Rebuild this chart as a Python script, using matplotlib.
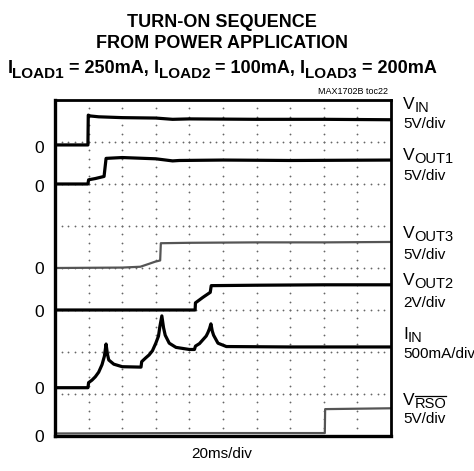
import numpy as np
import matplotlib
matplotlib.use("Agg")
import matplotlib.pyplot as plt
from matplotlib.transforms import IdentityTransform
from matplotlib.lines import Line2D

plt.rcParams["font.family"] = ["Liberation Sans", "DejaVu Sans"]

# 파형 데이터 (x: 시간 div, y: 화면 div)
vin_x = [0, 0.98, 0.99, 1.05, 1.3, 2.0, 3.0, 3.5, 4.0, 6.0, 8.0, 10]
vin_y = [6.93, 6.93, 7.64, 7.62, 7.6, 7.58, 7.57, 7.54, 7.55, 7.54, 7.54, 7.53]

vout1_x = [0, 0.98, 1.0, 1.2, 1.46, 1.52, 2.0, 3.0, 3.5, 3.7, 5.0, 7.0, 10]
vout1_y = [6.0, 6.0, 6.1, 6.13, 6.18, 6.61, 6.63, 6.6, 6.55, 6.56, 6.57, 6.56, 6.57]

vout3_x = [0, 2.0, 2.54, 2.8, 2.98, 3.13, 3.15, 4.0, 6.0, 8.0, 10]
vout3_y = [4.0, 4.01, 4.03, 4.1, 4.15, 4.18, 4.59, 4.6, 4.61, 4.61, 4.62]

vout2_x = [0, 4.17, 4.18, 4.4, 4.62, 4.65, 6.0, 8.0, 10]
vout2_y = [3.0, 3.0, 3.17, 3.3, 3.42, 3.58, 3.59, 3.6, 3.6]

iin_x = [0, 0.98, 1.0, 1.1, 1.2, 1.3, 1.4, 1.47, 1.52, 1.56, 1.6, 1.75, 2.0, 2.56,
         2.58, 2.7, 2.8, 2.9, 3.0, 3.08, 3.12, 3.18, 3.23, 3.28, 3.4, 3.6, 4.0, 4.15,
         4.18, 4.3, 4.4, 4.5, 4.55, 4.6, 4.64, 4.68, 4.72, 4.85, 5.1, 7.0, 10]
iin_y = [1.15, 1.15, 1.27, 1.33, 1.41, 1.52, 1.7, 1.9, 2.19, 1.95, 1.81, 1.71, 1.65, 1.64,
         1.77, 1.86, 1.93, 2.03, 2.21, 2.38, 2.6, 2.86, 2.58, 2.4, 2.21, 2.11, 2.06, 2.06,
         2.14, 2.2, 2.29, 2.38, 2.46, 2.56, 2.67, 2.5, 2.4, 2.21, 2.13, 2.12, 2.12]

vrso_x = [0, 4.0, 8.03, 8.04, 9.0, 10]
vrso_y = [0.06, 0.07, 0.07, 0.64, 0.65, 0.66]

zero_ticks = [6.88, 5.95, 4.0, 2.98, 1.14, 0.0]

# (기호, 첨자, 스케일, 기호 baseline px, 스케일 baseline px)
right_labels = [
    ("V", "IN", "5V/div", 109, 128),
    ("V", "OUT1", "5V/div", 160, 180),
    ("V", "OUT3", "5V/div", 238, 259),
    ("V", "OUT2", "2V/div", 285, 307),
    ("I", "IN", "500mA/div", 339, 358),
    ("V", "RSO", "5V/div", 405, 423),
]

W, H = 474, 471
fig = plt.figure(figsize=(W / 100, H / 100), dpi=100)
renderer = fig.canvas.get_renderer()


def text_width(s, **kw):
    t = fig.text(0, 0, "|" + s + "|", transform=IdentityTransform(), **kw)
    w1 = t.get_window_extent(renderer).width
    t.set_text("||")
    w0 = t.get_window_extent(renderer).width
    t.remove()
    return w1 - w0


def rich(pieces, x, ybase, ha="left"):
    # pieces: (문자열, 크기, 굵기, 아래로 이동 px)
    widths = [text_width(s, fontsize=sz, fontweight=wt) for s, sz, wt, dy in pieces]
    total = sum(widths)
    cx = x - total / 2 if ha == "center" else x
    out = []
    for (s, sz, wt, dy), w in zip(pieces, widths):
        t = fig.text(cx, H - ybase - dy, s, fontsize=sz, fontweight=wt,
                     ha="left", va="baseline", transform=IdentityTransform())
        out.append((t, cx, w))
        cx += w
    return out


ax = fig.add_axes([55 / W, 1 - 436 / H, 336 / W, 336 / H])
ax.set_xlim(0, 10)
ax.set_ylim(0, 8)

# 점선 그리드
for i in range(1, 10):
    ys = np.arange(1, 40) * 0.2
    ax.plot(np.full_like(ys, i), ys, ls="none", marker="o", ms=1.3, color="#666666", mew=0)
for j in range(1, 8):
    xs = np.arange(1, 50) * 0.2
    ax.plot(xs, np.full_like(xs, j), ls="none", marker="o", ms=1.3, color="#666666", mew=0)

thick = dict(color="black", lw=2.3, solid_joinstyle="round")
thin = dict(color="#555555", lw=1.6)
ax.plot(vin_x, vin_y, **thick)
ax.plot(vout1_x, vout1_y, **thick)
ax.plot(vout3_x, vout3_y, **thin)
ax.plot(vout2_x, vout2_y, **thick)
ax.plot(iin_x, iin_y, **thick)
ax.plot(vrso_x, vrso_y, **thin)

ax.set_xticks([])
ax.set_yticks(zero_ticks)
ax.set_yticklabels(["0"] * len(zero_ticks), fontsize=12.5)
ax.tick_params(axis="y", length=0, pad=8)
for side, s in ax.spines.items():
    s.set_linewidth(2.4 if side in ("left", "bottom") else 2.0)

# 제목
fig.text(222 / W, 1 - 27 / H, "TURN-ON SEQUENCE", ha="center", va="baseline",
         fontsize=13, fontweight="bold")
fig.text(222 / W, 1 - 48 / H, "FROM POWER APPLICATION", ha="center", va="baseline",
         fontsize=13, fontweight="bold")
title3 = []
for k, (sub, val) in enumerate([("LOAD1", "250mA"), ("LOAD2", "100mA"), ("LOAD3", "200mA")]):
    title3.append(("I", 13, "bold", 0))
    title3.append((sub, 11, "bold", 5.5))
    tail = " = " + val + (", " if k < 2 else "")
    title3.append((tail, 13, "bold", 0))
rich(title3, 222, 73, ha="center")

fig.text(388 / W, 1 - 94.3 / H, "MAX1702B toc22", ha="right", va="baseline", fontsize=6.5)

for sym, sub, scale, y1, y2 in right_labels:
    parts = rich([(sym, 12.5, "normal", 0), (sub, 10.5, "normal", 3.2)], 403, y1)
    if sub == "RSO":
        t, x0, w = parts[1]
        bb = t.get_window_extent(renderer)
        fig.add_artist(Line2D([x0 + 0.5, x0 + w - 0.5], [bb.y1 + 1.5, bb.y1 + 1.5],
                              transform=IdentityTransform(), color="black", lw=0.9))
    fig.text(403 / W, 1 - y2 / H, scale, ha="left", va="baseline", fontsize=11)

fig.text(222 / W, 1 - 458 / H, "20ms/div", ha="center", va="baseline", fontsize=11)

plt.savefig("out.png", dpi=100)
